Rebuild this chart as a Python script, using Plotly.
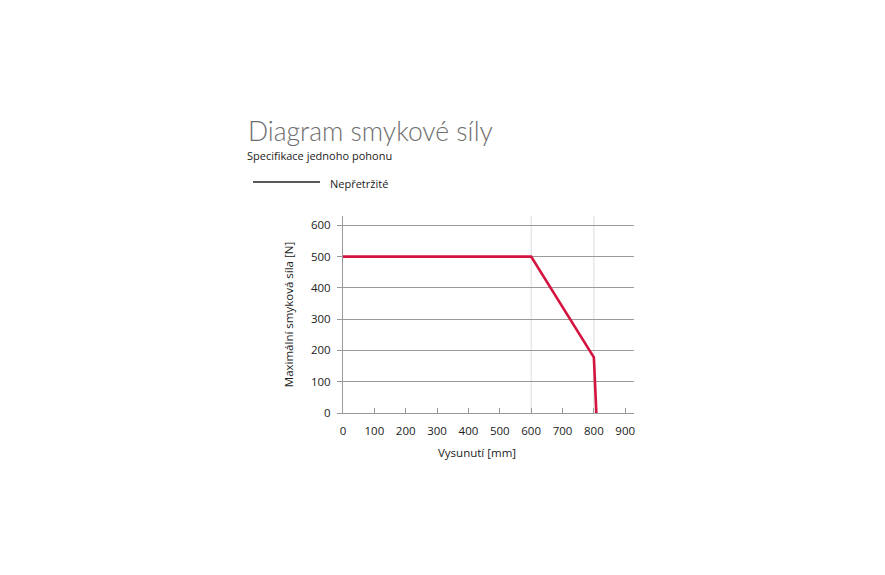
import plotly.graph_objects as go

# shear force curve, single drive
vysunuti = [0, 600, 800, 808]      # mm
sila = [500, 500, 178, 0]          # N

x_ticks = [0, 100, 200, 300, 400, 500, 600, 700, 800, 900]
y_ticks = [0, 100, 200, 300, 400, 500, 600]
x_grid = [600, 800]

RED = "#d4143e"
FONT = "Open Sans"

W, H = 885, 575
ML, MR, MT, MB = 335, 259, 208, 170
PAGE_OFF = 8  # body margin of the html page
PW = W - ML - MR
PH = H - MT - MB


def px_x(px):
    return (px - PAGE_OFF - ML) / PW


def px_y(py):
    return 1 - (py - PAGE_OFF - MT) / PH


fig = go.Figure()

fig.add_trace(go.Scatter(
    x=vysunuti, y=sila,
    mode="lines",
    line=dict(color=RED, width=2.6),
    cliponaxis=False,
    showlegend=False,
    hovertemplate="%{x} mm<br>%{y} N<extra></extra>",
))

# light vertical guides at the knees only
shapes = []
for gx in x_grid:
    shapes.append(dict(type="line", xref="x", yref="paper", x0=gx, x1=gx, y0=0, y1=1,
                       line=dict(color="#dcdcdc", width=1), layer="below"))

# legend drawn by hand (black line + label)
shapes.append(dict(type="line", xref="paper", yref="paper",
                   x0=px_x(253), x1=px_x(320), y0=px_y(182), y1=px_y(182),
                   line=dict(color="#222222", width=1.6)))

fig.update_layout(
    width=W, height=H, autosize=False,
    margin=dict(l=ML, r=MR, t=MT, b=MB),
    paper_bgcolor="white", plot_bgcolor="white",
    showlegend=False,
    font=dict(family=FONT, size=11, color="#222222"),
    shapes=shapes,
    annotations=[
        dict(text="Diagram smykové síly", xref="paper", yref="paper",
             x=px_x(246), y=px_y(131), xanchor="left", yanchor="middle", showarrow=False,
             font=dict(family="Lato", size=26.5, color="#6e6e6e", weight=300)),
        dict(text="Specifikace jednoho pohonu", xref="paper", yref="paper",
             x=px_x(245), y=px_y(155), xanchor="left", yanchor="middle", showarrow=False,
             font=dict(family=FONT, size=11, color="#222222")),
        dict(text="Nepřetržité", xref="paper", yref="paper",
             x=px_x(328), y=px_y(183), xanchor="left", yanchor="middle", showarrow=False,
             font=dict(family=FONT, size=11, color="#222222")),
        dict(text="Vysunutí [mm]", xref="paper", yref="paper",
             x=px_x(477), y=px_y(452), xanchor="center", yanchor="middle", showarrow=False,
             font=dict(family=FONT, size=11.5, color="#222222")),
    ],
    xaxis=dict(
        range=[0, 928], tickvals=x_ticks, showgrid=False, zeroline=False,
        showline=True, linecolor="#999999", linewidth=1,
        ticks="inside", ticklen=5, tickcolor="#999999",
        ticklabelstandoff=7,
        tickfont=dict(size=11.5), fixedrange=True,
    ),
    yaxis=dict(
        range=[0, 630], tickvals=y_ticks, showgrid=True, gridcolor="#9a9a9a", gridwidth=1,
        zeroline=False, showline=True, linecolor="#999999", linewidth=1,
        ticks="outside", ticklen=5, tickcolor="#999999",
        ticklabelstandoff=4,
        tickfont=dict(size=11.5), fixedrange=True,
        title=dict(text="Maximální smyková síla [N]", font=dict(size=11.5), standoff=14),
    ),
)

fig.write_html("out.html")
